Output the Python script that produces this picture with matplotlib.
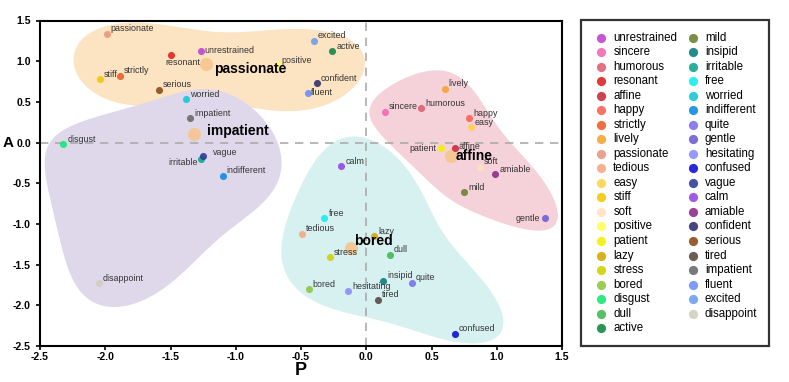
import numpy as np
import matplotlib
matplotlib.use('Agg')
import matplotlib.pyplot as plt

# words, positions on the P (x) / A (y) plane, colour and cluster
words = ['unrestrained', 'sincere', 'humorous', 'resonant', 'affine', 'happy', 'strictly',
         'lively', 'passionate', 'tedious', 'easy', 'stiff', 'soft', 'positive', 'patient',
         'lazy', 'stress', 'bored', 'disgust', 'dull', 'active',
         'mild', 'insipid', 'irritable', 'free', 'worried', 'indifferent', 'quite', 'gentle',
         'hesitating', 'confused', 'vague', 'calm', 'amiable', 'confident', 'serious', 'tired',
         'impatient', 'fluent', 'excited', 'disappoint']
P = [-1.27, 0.14, 0.42, -1.50, 0.68, 0.79, -1.89,
     0.60, -1.99, -0.49, 0.80, -2.04, 0.87, -0.68, 0.57,
     0.06, -0.28, -0.44, -2.32, 0.18, -0.26,
     0.75, 0.13, -1.27, -0.32, -1.38, -1.10, 0.35, 1.37,
     -0.14, 0.68, -1.25, -0.19, 0.99, -0.38, -1.59, 0.09,
     -1.35, -0.45, -0.40, -2.05]
A = [1.13, 0.38, 0.42, 1.07, -0.07, 0.30, 0.82,
     0.66, 1.34, -1.12, 0.19, 0.78, -0.30, 0.95, -0.07,
     -1.15, -1.41, -1.80, -0.02, -1.38, 1.12,
     -0.61, -1.70, -0.20, -0.93, 0.53, -0.41, -1.72, -0.93,
     -1.83, -2.35, -0.17, -0.29, -0.39, 0.73, 0.65, -1.93,
     0.30, 0.61, 1.25, -1.73]
colors = ['#BC3FD2', '#F265B2', '#E05C72', '#DE1F1F', '#C8283A', '#FA6150', '#F05A26',
          '#F6A22E', '#E8977A', '#F8A77E', '#FFD24E', '#F2C600', '#FFE2BC', '#FFFF55', '#F2F000',
          '#D2A800', '#D2CF00', '#8CC63E', '#12E872', '#3DB84E', '#0E8544',
          '#6B7F2E', '#0A7A7A', '#0EA38F', '#10ECF2', '#10C8D2', '#0A8AE0', '#7A6CF0', '#6E5AD0',
          '#8A8AFF', '#0A0AD2', '#2B3A96', '#9342E8', '#8A2A8A', '#2C2C6E', '#8A4714', '#54473E',
          '#666666', '#6A8CFF', '#6A9CEE', '#D2CEBC']
cluster = ['passionate', 'affine', 'affine', 'passionate', 'affine', 'affine', 'passionate',
           'affine', 'passionate', 'bored', 'affine', 'passionate', 'affine', 'passionate', 'affine',
           'bored', 'bored', 'bored', 'impatient', 'bored', 'passionate',
           'affine', 'bored', 'impatient', 'bored', 'impatient', 'impatient', 'bored', 'affine',
           'bored', 'bored', 'impatient', 'bored', 'affine', 'passionate', 'passionate', 'bored',
           'impatient', 'passionate', 'passionate', 'impatient']

# cluster centres
centres = ['passionate', 'impatient', 'affine', 'bored']
centre_P = [-1.23, -1.32, 0.65, -0.12]
centre_A = [0.96, 0.10, -0.16, -1.30]
blob_colors = {'passionate': '#FCE3C1', 'impatient': '#DFD8EB',
               'affine': '#F5D1D9', 'bored': '#D7F0F0'}
# padding of each cluster region in px: left, right, bottom, top
blob_pad = {'passionate': (28, 40, 15, 8), 'impatient': (25, 64, 24, 9),
            'affine': (20, 18, 15, 21), 'bored': (20, 56, 8, 32)}

# label offsets in pixels (dx, dy, ha); default is right and a bit above
offsets = {'unrestrained': (4, 0, 'left'), 'fluent': (3, 0, 'left'),
           'resonant': (-5, -7, 'left'), 'patient': (-4, 0, 'right'),
           'affine': (4, 2, 'left'), 'gentle': (-5, 0, 'right'),
           'vague': (10, 4, 'left'), 'irritable': (-3, -4, 'right')}
centre_off = {'passionate': (8, -5), 'impatient': (13, 3), 'affine': (5, 0), 'bored': (3, 7)}

SX, SY = 130.5, 81.4  # px per data unit


def hull(pts):
    pts = sorted(set(map(tuple, np.round(pts, 6))))
    def cross(o, a, b):
        return (a[0]-o[0])*(b[1]-o[1]) - (a[1]-o[1])*(b[0]-o[0])
    lower, upper = [], []
    for p in pts:
        while len(lower) >= 2 and cross(lower[-2], lower[-1], p) <= 0:
            lower.pop()
        lower.append(p)
    for p in reversed(pts):
        while len(upper) >= 2 and cross(upper[-2], upper[-1], p) <= 0:
            upper.pop()
        upper.append(p)
    return np.array(lower[:-1] + upper[:-1])


def smooth_outline(poly, n=256, keep=4):
    # resample along the perimeter then keep only the low harmonics
    q = np.vstack([poly, poly[:1]])
    seg = np.linalg.norm(np.diff(q, axis=0), axis=1)
    t = np.concatenate([[0], np.cumsum(seg)])
    s = np.linspace(0, t[-1], n, endpoint=False)
    z = np.interp(s, t, q[:, 0]) + 1j*np.interp(s, t, q[:, 1])
    Z = np.fft.fft(z)
    k = np.fft.fftfreq(n, 1.0/n)
    Z[np.abs(k) > keep] = 0
    z = np.fft.ifft(Z)
    return np.c_[z.real, z.imag]


def blob(name):
    xs = [P[i] for i in range(len(words)) if cluster[i] == name]
    ys = [A[i] for i in range(len(words)) if cluster[i] == name]
    k = centres.index(name)
    xs.append(centre_P[k]); ys.append(centre_A[k])
    l, r, b, t = blob_pad[name]
    th = np.linspace(0, 2*np.pi, 48, endpoint=False)
    ex = np.cos(th)*np.where(np.cos(th) > 0, r, l)
    ey = np.sin(th)*np.where(np.sin(th) > 0, t, b)
    cloud = np.vstack([np.c_[x*SX+ex, y*SY+ey] for x, y in zip(xs, ys)])
    sp = smooth_outline(hull(cloud))
    return sp[:, 0]/SX, sp[:, 1]/SY


fig = plt.figure(figsize=(7.89, 3.82), dpi=100)
ax = fig.add_axes([40/789, 1-346/382, 522/789, 325.5/382])

for name in centres:
    bx, by = blob(name)
    ax.fill(bx, by, color=blob_colors[name], lw=0, zorder=1)

ax.axhline(0, color='#ABABAB', ls=(0, (5, 4)), lw=1.2, zorder=2)
ax.axvline(0, color='#ABABAB', ls=(0, (5, 4)), lw=1.2, zorder=2)

ax.scatter(centre_P, centre_A, s=90, color='#F6C68E', alpha=0.9, lw=0, zorder=3)
for i, w in enumerate(words):
    ax.scatter(P[i], A[i], s=26, color=colors[i], alpha=0.88, lw=0, zorder=4, label=w)
    dx, dy, ha = offsets.get(w, (4, 5, 'left'))
    ax.annotate(w, (P[i], A[i]), xytext=(dx*0.72, dy*0.72), textcoords='offset points',
                ha=ha, va='center', fontsize=6.4, color='#333333', zorder=5,
                family=['Liberation Sans', 'DejaVu Sans'])
for k, c in enumerate(centres):
    dx, dy = centre_off[c]
    ax.annotate(c, (centre_P[k], centre_A[k]), xytext=(dx*0.72, dy*0.72),
                textcoords='offset points', ha='left', va='center', fontsize=10,
                fontweight='bold', color='black', zorder=6,
                family=['Liberation Sans', 'DejaVu Sans'])

ax.set_xlim(-2.5, 1.5)
ax.set_ylim(-2.5, 1.5)
ticks = np.arange(-2.5, 1.51, 0.5)
ax.set_xticks(ticks)
ax.set_yticks(ticks)
tickfont = {'family': ['Liberation Sans Narrow', 'Liberation Sans', 'DejaVu Sans'],
            'weight': 'bold', 'size': 7.6}
ax.set_xticklabels(['%.1f' % v for v in ticks], fontdict=tickfont)
ax.set_yticklabels(['%.1f' % v for v in ticks], fontdict=tickfont)
ax.tick_params(direction='out', length=3, width=1.2)
ax.tick_params(axis='x', pad=1)
ax.tick_params(axis='y', pad=3.5)
for s in ax.spines.values():
    s.set_linewidth(1.5)
ax.set_xlabel('P', fontsize=13, fontweight='bold', labelpad=0,
              family=['Liberation Sans', 'DejaVu Sans'])
ax.set_ylabel('A', fontsize=11, fontweight='bold', rotation=0,
              va='center', ha='center', family=['Liberation Sans', 'DejaVu Sans'])
ax.yaxis.set_label_coords(-32/522, 0.6245)

leg = fig.legend(loc='upper left', bbox_to_anchor=(581/789, 1-20/382), ncol=2,
                 frameon=True, fancybox=False, edgecolor='black',
                 labelspacing=0.22, handletextpad=0.3, columnspacing=0.6,
                 borderpad=1.0, borderaxespad=0, handlelength=1.5, markerscale=1.3,
                 prop={'family': ['Liberation Sans', 'DejaVu Sans'], 'size': 8.3})
leg.get_frame().set_linewidth(1.6)

fig.savefig('out.png', dpi=100)
